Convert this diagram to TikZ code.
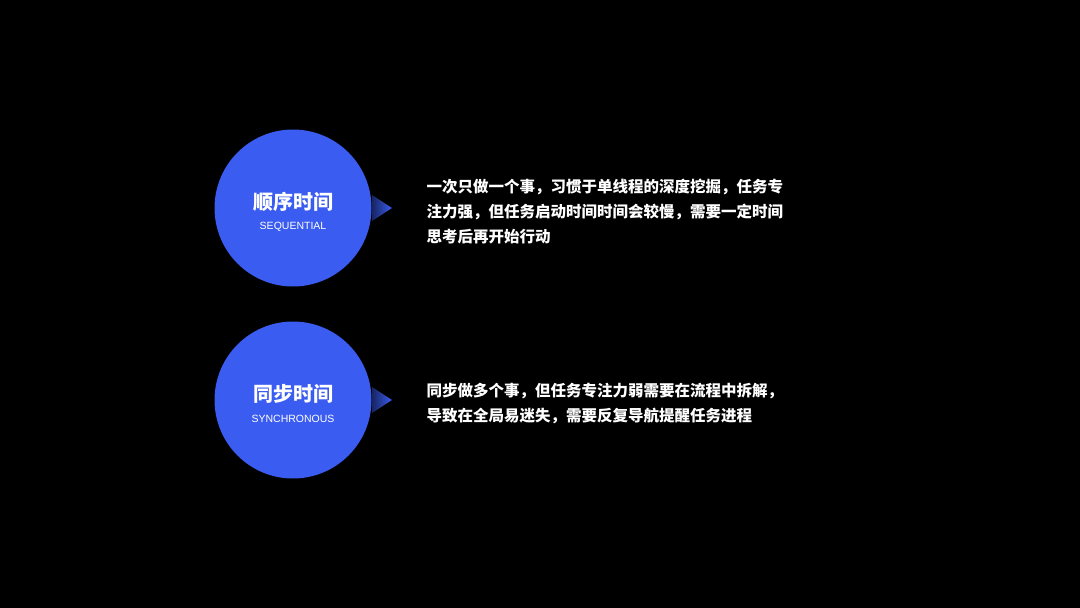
\documentclass[tikz,border=0pt]{standalone}
\usepackage{fontspec}
\newfontfamily\cjk{Noto Sans CJK SC}
\setsansfont{Liberation Sans}
\begin{document}
\begin{tikzpicture}[x=1pt,y=-1pt,
  circ/.style={circle,fill=myblue,minimum size=157pt,inner sep=0pt},
  ttl/.style={text=white,font=\cjk\bfseries\fontsize{20}{24}\selectfont},
  sub/.style={text=white,font=\sffamily\fontsize{10.5}{12}\selectfont},
  body/.style={text=white,anchor=north west,align=left,font=\cjk\bfseries\fontsize{15.5}{25}\selectfont}]
\definecolor{myblue}{HTML}{3A5CF0}
\fill[black] (0,0) rectangle (1080,608);
\useasboundingbox (0,0) rectangle (1080,608);
\foreach \y/\n/\t/\s in {208/a/顺序时间/SEQUENTIAL, 400/b/同步时间/SYNCHRONOUS}{
  \node[circ] (c\n) at (293,\y) {};
  \node[ttl] (t\n) at (293,\y-6) {\t};
  \node[sub] (s\n) at (293,\y+19) {\s};
  \shade[left color=black!60!myblue,right color=myblue] (372,\y-13) -- (392,\y+4-4) -- (372,\y+13) -- cycle;
}
\node[body] (ba) at (423,176) {一次只做一个事，习惯于单线程的深度挖掘，任务专\\注力强，但任务启动时间时间会较慢，需要一定时间\\思考后再开始行动};
\node[body] (bb) at (423,380) {同步做多个事，但任务专注力弱需要在流程中拆解，\\导致在全局易迷失，需要反复导航提醒任务进程};
\end{tikzpicture}
\end{document}
